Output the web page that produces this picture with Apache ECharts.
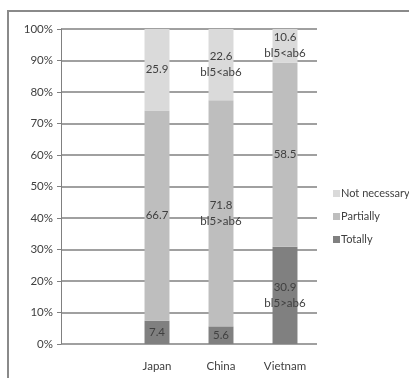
<!DOCTYPE html>
<html><head><meta charset="utf-8">
<script src="https://cdn.jsdelivr.net/npm/echarts@6/dist/echarts.min.js"></script>
<style>html,body{margin:0;padding:0;background:#fff}#c{width:409px;height:378px}</style>
</head><body><div id="c"></div>
<script>
var categories = ['', 'Japan', 'China', 'Vietnam'];
var totally = [null, 7.4, 5.6, 30.9];
var partially = [null, 66.7, 71.8, 58.5];
var notNecessary = [null, 25.9, 22.6, 10.6];
var totallyNote = ['', '', '', 'bl5>ab6'];
var partiallyNote = ['', '', 'bl5>ab6', ''];
var notNecessaryNote = ['', '', 'bl5<ab6', 'bl5<ab6'];
var yTicks = [0, 10, 20, 30, 40, 50, 60, 70, 80, 90, 100];

var FONT = 'Lato, "Liberation Sans Narrow", sans-serif';
function mk(name, data, notes, color) {
  return {
    name: name, type: 'bar', stack: 'a', data: data, barWidth: '39%',
    itemStyle: { color: color },
    label: {
      show: true, position: 'inside', color: '#404040', fontFamily: FONT, fontSize: 11.5, lineHeight: 16,
      formatter: function (p) { var n = notes[p.dataIndex]; return p.value + (n ? '\n' + n : ''); }
    }
  };
}
var chart = echarts.init(document.getElementById('c'), null, { renderer: 'canvas' });
chart.setOption({
  animation: false,
  grid: { left: 61, right: 92, top: 29, bottom: 34, containLabel: false },
  legend: {
    orient: 'vertical', left: 328, top: 183, itemWidth: 7, itemHeight: 7, itemGap: 12, padding: 5,
    icon: 'rect', data: ['Not necessary', 'Partially', 'Totally'],
    textStyle: { color: '#404040', fontFamily: FONT, fontSize: 11, padding: [0, 0, 0, -4] }
  },
  xAxis: {
    type: 'category', data: categories,
    axisLine: { show: false }, axisTick: { show: false },
    axisLabel: { color: '#404040', fontFamily: FONT, fontSize: 11.5, margin: 16 }
  },
  yAxis: {
    type: 'value', min: yTicks[0], max: yTicks[yTicks.length - 1], interval: 10,
    axisLine: { show: true, lineStyle: { color: '#808080', width: 1 } },
    axisTick: { show: true, length: 4, lineStyle: { color: '#808080' } },
    splitLine: { show: true, lineStyle: { color: '#808080', width: 1.5 } },
    axisLabel: { color: '#404040', fontFamily: FONT, fontSize: 11.5, margin: 8, formatter: '{value}%' }
  },
  series: [
    mk('Totally', totally, totallyNote, '#808080'),
    mk('Partially', partially, partiallyNote, '#bebebe'),
    mk('Not necessary', notNecessary, notNecessaryNote, '#dadada')
  ],
  graphic: [{
    type: 'polyline', shape: { points: [[8, 378], [8, 11], [409, 11]] },
    style: { stroke: '#8a8a8a', lineWidth: 2, fill: null }
  }]
});
</script></body></html>
